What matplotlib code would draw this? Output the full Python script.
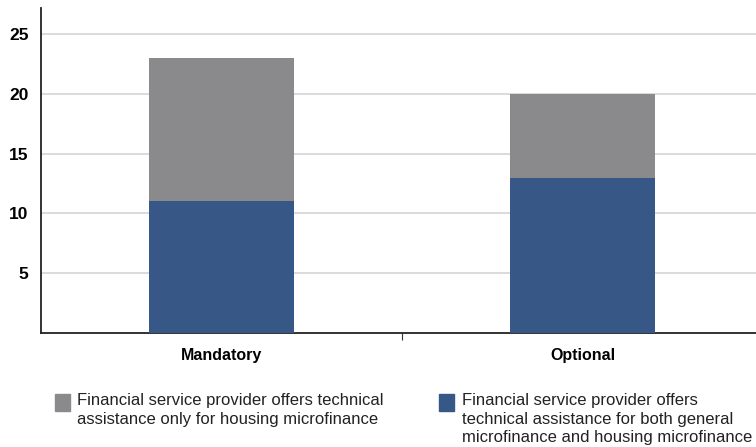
import matplotlib
matplotlib.use("Agg")
import matplotlib.pyplot as plt
from matplotlib.patches import Rectangle

categories = ["Mandatory", "Optional"]
both_general_housing = [11, 13]
housing_only = [12, 7]
yticks = [5, 10, 15, 20, 25]
legend_labels = [
    "Financial service provider offers technical\nassistance only for housing microfinance",
    "Financial service provider offers\ntechnical assistance for both general\nmicrofinance and housing microfinance",
]

GRAY = "#8a8a8c"
BLUE = "#375886"

plt.rcParams['font.family'] = ['Liberation Sans', 'DejaVu Sans']

fig = plt.figure(figsize=(7.56, 4.47), dpi=100)
ax = fig.add_axes([41/756, 114.25/447, 715/756, 324.75/447])

x = list(range(len(categories)))
ax.bar(x, both_general_housing, width=0.4, color=BLUE, zorder=3)
ax.bar(x, housing_only, width=0.4, bottom=both_general_housing, color=GRAY, zorder=3)

ax.set_xlim(-0.5, 1.48)
ax.set_ylim(0, 27.2)
ax.set_yticks(yticks)
ax.set_yticklabels([str(t) for t in yticks], fontsize=12.5, fontweight='bold')
ax.tick_params(axis='y', length=0, pad=9)
ax.yaxis.grid(True, color='#d4d4d4', linewidth=1.2, zorder=0)
ax.set_axisbelow(True)

ax.set_xticks([0.5])
ax.set_xticklabels([""])
ax.tick_params(axis='x', length=5, width=0.8, color='#333333', direction='out')
for i, c in enumerate(categories):
    ax.text(i, -1.9, c, ha='center', va='center', fontsize=11.5, fontweight='bold',
            transform=ax.transData, clip_on=False)

for s in ['top', 'right']:
    ax.spines[s].set_visible(False)
ax.spines['left'].set_linewidth(1.3)
ax.spines['left'].set_color('#222222')
ax.spines['bottom'].set_linewidth(1.3)
ax.spines['bottom'].set_color('#222222')

# legend
fig.patches.append(Rectangle((55/756, 1 - 411/447), 15/756, 17/447, transform=fig.transFigure,
                             color=GRAY, figure=fig))
fig.text(77/756, 1 - 393/447, legend_labels[0], ha='left', va='top', fontsize=12,
         linespacing=1.3, color='#222222')
fig.patches.append(Rectangle((439/756, 1 - 411/447), 15/756, 17/447, transform=fig.transFigure,
                             color=BLUE, figure=fig))
fig.text(462/756, 1 - 393/447, legend_labels[1], ha='left', va='top', fontsize=12,
         linespacing=1.3, color='#222222')

fig.savefig("out.png", dpi=100)
